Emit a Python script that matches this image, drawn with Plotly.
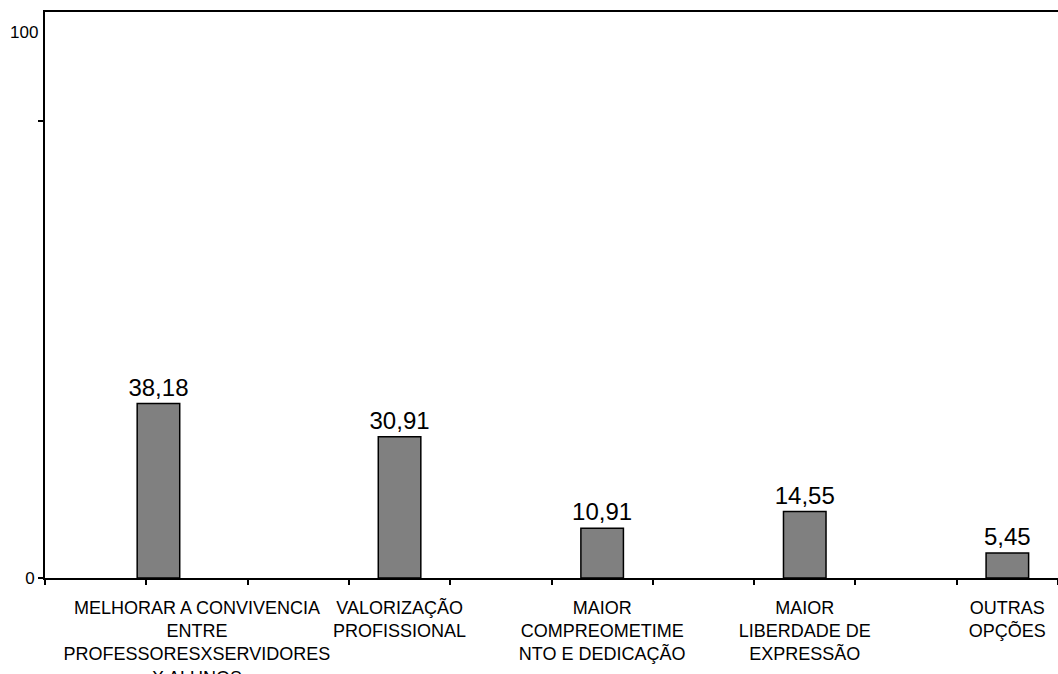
import plotly.graph_objects as go

categories = [
    "MELHORAR A CONVIVENCIA<br>ENTRE<br>PROFESSORESXSERVIDORES<br>X ALUNOS",
    "VALORIZAÇÃO<br>PROFISSIONAL",
    "MAIOR<br>COMPREOMETIME<br>NTO E DEDICAÇÃO",
    "MAIOR<br>LIBERDADE DE<br>EXPRESSÃO",
    "OUTRAS<br>OPÇÕES",
]
values = [38.18, 30.91, 10.91, 14.55, 5.45]
value_labels = ["38,18", "30,91", "10,91", "14,55", "5,45"]
y_tick_vals = [0, 100]
y_tick_text = ["0", ""]
top_label = "100"

# each bar occupies every second slot of a ten-slot axis
positions = [2 * i + 1 for i in range(len(categories))]
n_slots = 2 * len(categories)

FONT = "Liberation Sans, Arial, sans-serif"
BAR_W = 0.42
bar_offsets = [-BAR_W / 2 - 0.38] + [-BAR_W / 2] * (len(categories) - 1)

fig = go.Figure()
fig.add_trace(go.Bar(
    x=positions,
    y=values,
    width=BAR_W,
    offset=bar_offsets,
    marker=dict(color="#808080", line=dict(color="#000000", width=1.5)),
    text=value_labels,
    textposition="outside",
    constraintext="none",
    textfont=dict(family=FONT, size=24, color="#000000"),
    cliponaxis=False,
    hoverinfo="skip",
))

fig.update_layout(
    width=1058,
    height=674,
    margin=dict(l=45, r=0, t=12, b=96),
    paper_bgcolor="white",
    plot_bgcolor="white",
    showlegend=False,
    font=dict(family=FONT, color="#000000"),
    xaxis=dict(
        range=[-0.5, n_slots - 0.5],
        tickvals=positions,
        ticktext=categories,
        ticks="",
        ticklabelstandoff=12,
        automargin=False,
        minor=dict(ticks="outside", tick0=0.5, dtick=1, ticklen=5,
                   tickwidth=1.5, tickcolor="#000000", showgrid=False),
        showline=True,
        linecolor="#000000",
        linewidth=2,
        mirror=True,
        showgrid=False,
        zeroline=False,
        tickangle=0,
        tickfont=dict(family=FONT, size=18, color="#000000"),
    ),
    yaxis=dict(
        range=[0, 123.9],
        tickvals=y_tick_vals,
        ticktext=y_tick_text,
        ticks="outside",
        ticklen=5,
        tickwidth=1.5,
        tickcolor="#000000",
        automargin=False,
        showline=True,
        linecolor="#000000",
        linewidth=2,
        showgrid=False,
        zeroline=False,
        tickfont=dict(family=FONT, size=17, color="#000000"),
    ),
    annotations=[dict(
        x=0, xref="paper", y=119.5, yref="y",
        text=top_label, showarrow=False,
        xanchor="right", yanchor="middle", xshift=-5,
        font=dict(family=FONT, size=17, color="#000000"),
    )],
)

fig.write_html("out.html")
